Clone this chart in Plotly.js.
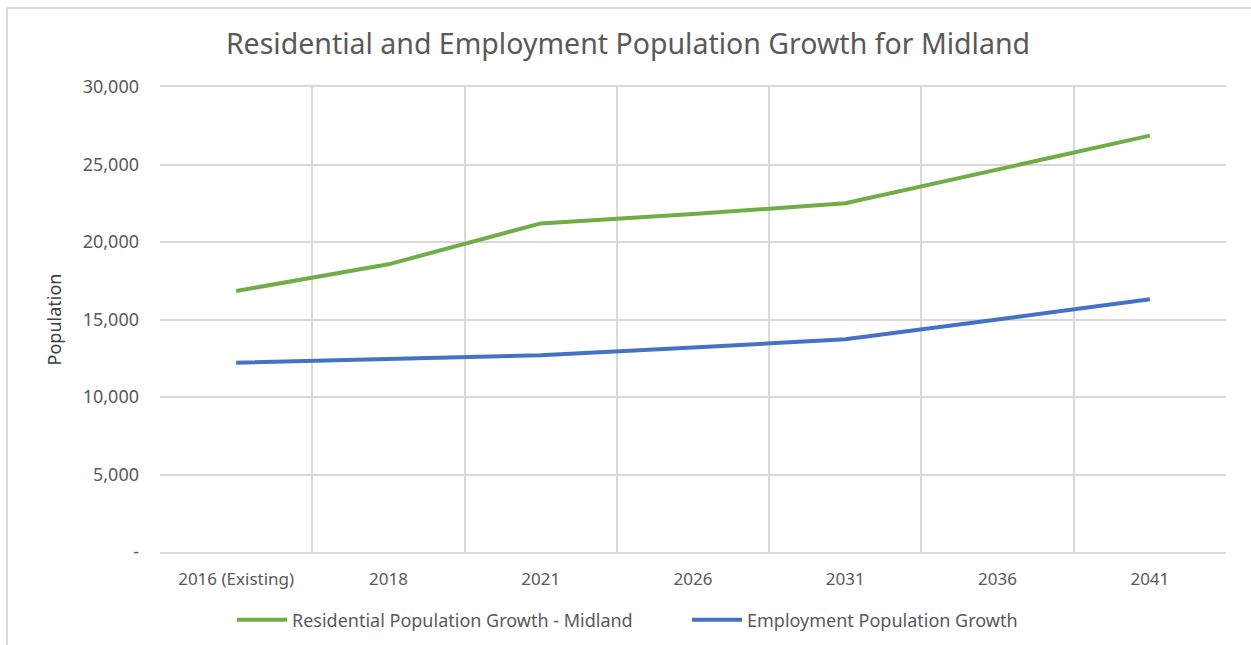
<!DOCTYPE html>
<html>
<head>
<meta charset="utf-8">
<script src="https://cdn.plot.ly/plotly-3.0.1.min.js"></script>
<style>
  html, body { margin: 0; padding: 0; background: #ffffff; }
  #chart { width: 1251px; height: 645px; }
</style>
</head>
<body>
<div id="chart"></div>
<script>
const categories = ["2016 (Existing)", "2018", "2021", "2026", "2031", "2036", "2041"];
const residential = [16840, 18560, 21200, 21800, 22500, 24700, 26860];
const employment = [12210, 12450, 12690, 13200, 13720, 15000, 16300];
const yTickVals = [0, 5000, 10000, 15000, 20000, 25000, 30000];
const yTickText = ["-", "5,000", "10,000", "15,000", "20,000", "25,000", "30,000"];

const FONT = "'Noto Sans', sans-serif";
const GRAY = "#595959";
const GRID = "#d9d9d9";

const traces = [
  {
    x: categories, y: residential, type: "scatter", mode: "lines",
    name: "Residential Population Growth - Midland",
    line: { color: "#70ad47", width: 4 }, legend: "legend"
  },
  {
    x: categories, y: employment, type: "scatter", mode: "lines",
    name: "Employment Population Growth",
    line: { color: "#4472c4", width: 4 }, legend: "legend2"
  }
];

const legendStyle = {
  orientation: "h", yref: "container", y: 0.0388, yanchor: "middle",
  xref: "container", xanchor: "left",
  font: { family: FONT, size: 18, color: GRAY }, bgcolor: "rgba(0,0,0,0)",
  itemwidth: 50
};

const layout = {
  width: 1251, height: 645,
  paper_bgcolor: "#ffffff", plot_bgcolor: "#ffffff",
  margin: { l: 160, r: 25, t: 87, b: 93, autoexpand: false },
  font: { family: FONT, color: GRAY, size: 17 },
  title: {
    text: "Residential and Employment Population Growth for Midland",
    font: { family: FONT, size: 28.5, color: GRAY },
    x: 0.502, xanchor: "center", y: 0.932, yanchor: "middle"
  },
  xaxis: {
    type: "category", range: [-0.5, 6.5],
    tickson: "boundaries", ticks: "", showgrid: true, gridcolor: GRID, gridwidth: 2,
    showline: true, linecolor: GRID, linewidth: 2, mirror: true,
    ticklabelstandoff: 11,
    tickfont: { family: FONT, size: 17, color: GRAY },
    fixedrange: true
  },
  yaxis: {
    range: [0, 30000], tickvals: yTickVals, ticktext: yTickText,
    showgrid: true, gridcolor: GRID, gridwidth: 2, zeroline: false,
    showline: false, ticks: "", ticklabelstandoff: 20,
    tickfont: { family: FONT, size: 18, color: GRAY },
    title: { text: "Population", font: { family: FONT, size: 18, color: "#404040" }, standoff: 16 },
    fixedrange: true
  },
  legend: Object.assign({}, legendStyle, { x: 232 / 1251 }),
  legend2: Object.assign({}, legendStyle, { x: 687 / 1251 }),
  shapes: [
    { type: "line", xref: "paper", yref: "paper", x0: -0.1435, x1: -0.1435, y0: -0.25, y1: 1.1699,
      line: { color: "#d9d9d9", width: 2 } },
    { type: "line", xref: "paper", yref: "paper", x0: -0.1435, x1: 1.05, y0: 1.1699, y1: 1.1699,
      line: { color: "#d9d9d9", width: 2 } }
  ],
  showlegend: true
};

Plotly.newPlot("chart", traces, layout, { displayModeBar: false, staticPlot: true });
</script>
</body>
</html>
